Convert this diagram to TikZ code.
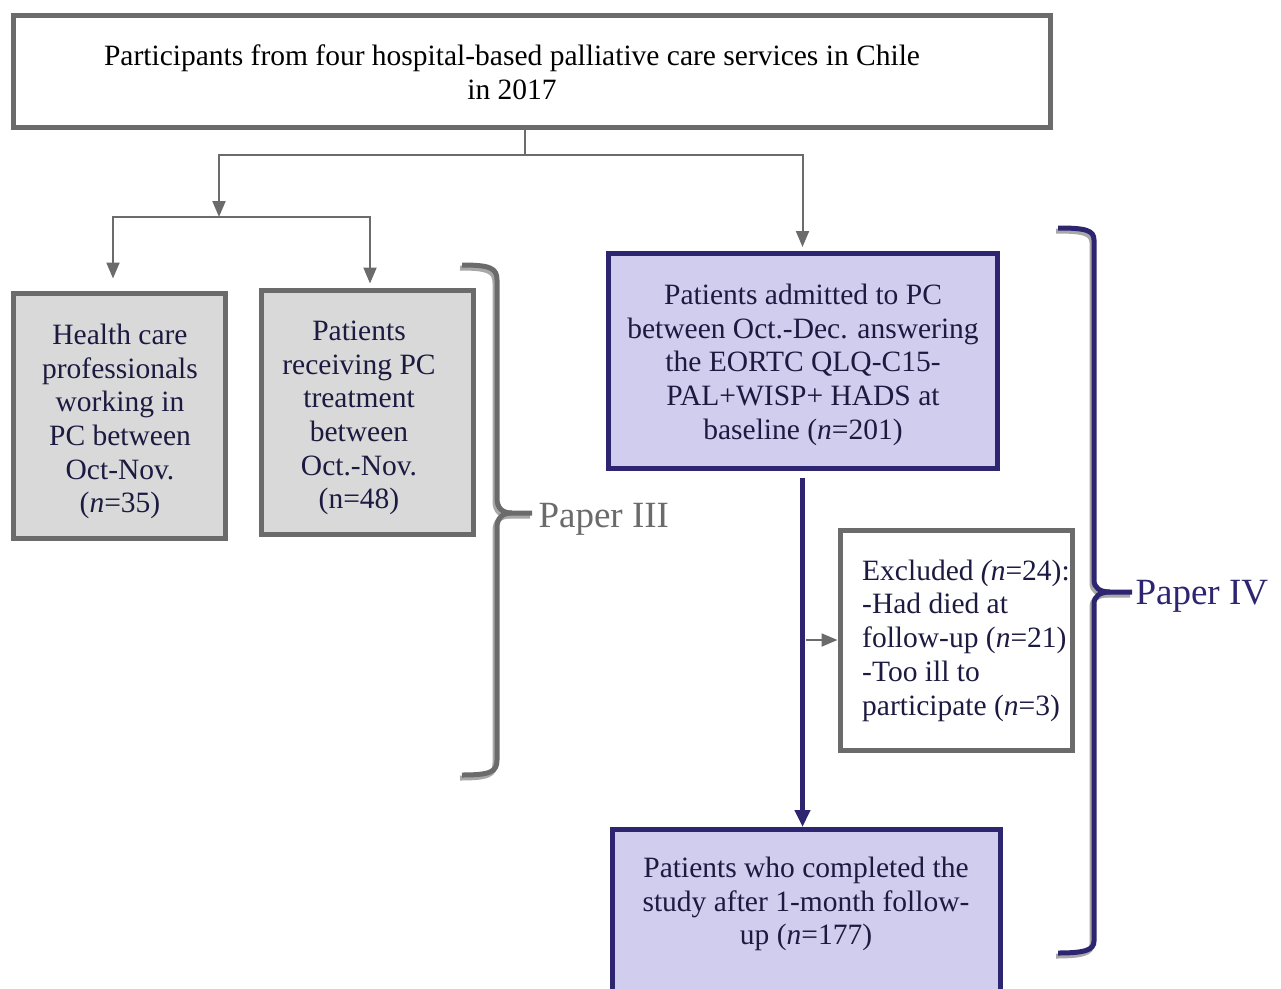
\documentclass[tikz,border=0pt]{standalone}
\usepackage{fontspec}
\setmainfont{Liberation Serif}
\usepackage{tikz}
\usetikzlibrary{arrows.meta,positioning}
\definecolor{ColorNavy}{HTML}{2E2570}
\definecolor{ColorLav}{HTML}{D0CDEE}
\definecolor{ColorGr}{HTML}{6B6B6B}
\definecolor{ColorLg}{HTML}{D9D9D9}
\definecolor{ColorSh}{HTML}{A8A8A8}
\definecolor{ColorTxt}{HTML}{1C1A40}
\tikzset{
  boxtext/.style={font=\fontsize{29.5}{33.7}\selectfont, align=center, text=ColorTxt},
  topbox/.style={draw=ColorGr, line width=5pt, fill=white},
  graybox/.style={draw=ColorGr, line width=5pt, fill=ColorLg},
  navybox/.style={draw=ColorNavy, line width=5pt, fill=ColorLav},
  exclbox/.style={draw=ColorGr, line width=5pt, fill=white},
  grayarrow/.style={draw=ColorGr, line width=2pt, -{Triangle[width=13pt,length=16pt]}},
  navyarrow/.style={draw=ColorNavy, line width=5pt, -{Triangle[width=15pt,length=17pt]}},
  papertext/.style={font=\fontsize{37}{40}\selectfont, anchor=west}
}

\begin{document}
\begin{tikzpicture}[x=1pt,y=-1pt]
        \useasboundingbox (0,0) rectangle (1281,988);
        \clip (0,0) rectangle (1281,988);
        %Top
        \node (top) [topbox, minimum width=1037, minimum height=112] at (531.5,71.5) {};
        \node (toptext) [boxtext, text=black] at (512,72) {Participants from four hospital-based palliative care services in Chile\\in 2017};
        %Boxes
        \node (hcp) [graybox, minimum width=212, minimum height=245] at (119.5,415.5) {};
        \node (hcptext) [boxtext] at (120,421.5) {Health care\\professionals\\working in\\PC between\\Oct-Nov.\\(\textit{n}=35)};
        \node (pat) [graybox, minimum width=212, minimum height=244] at (367,412) {};
        \node (pattext) [boxtext] at (359,418) {Patients\\receiving PC\\treatment\\between\\Oct.-Nov.\\(n=48)};
        \node (adm) [navybox, minimum width=389, minimum height=214.5] at (802.5,360.75) {};
        \node (admtext) [boxtext] at (803,364.75) {Patients admitted to PC\\between Oct.-Dec. answering\\the EORTC QLQ-C15-\\PAL+WISP+ HADS at\\baseline (\textit{n}=201)};
        \node (excl) [exclbox, minimum width=232, minimum height=220] at (956,640) {};
        \node (excltext) [boxtext, align=left, anchor=west, inner xsep=0pt] at (862,640.5) {Excluded \textit{(n}=24):\\-Had died at\\follow-up (\textit{n}=21)\\-Too ill to\\participate (\textit{n}=3)};
        \node (done) [navybox, anchor=north, minimum width=388, minimum height=205] at (806,827) {};
        \node (donetext) [boxtext] at (806,904) {Patients who completed the\\study after 1-month follow-\\up (\textit{n}=177)};
        %Arrows
        \coordinate (split) at (525,155);
        \coordinate (lsplit) at (219,217);
        \draw[ColorGr, line width=2pt] (top.south -| split) -- (split);
        \draw[grayarrow] (split) -| (lsplit);
        \draw[grayarrow, shorten >=4pt] (split) -| (adm.north);
        \draw[grayarrow, shorten >=12pt] (lsplit) -| ([xshift=-6.5pt]hcp.north);
        \draw[grayarrow, shorten >=4pt] (lsplit) -| ([xshift=3pt]pat.north);
        \draw[grayarrow, shorten <=3pt] (adm.south |- excl.west) -- (excl.west);
        \draw[navyarrow] ([yshift=-7pt]adm.south) -- (adm.south |- done.north);
        %Brackets
        \foreach \dx/\dy/\c in {-2/3/ColorSh, 0/0/ColorGr}{
          \draw[\c, line width=5pt, shift={(\dx,\dy)}]
            (462,265) .. controls (490,265) and (497,268) .. (497,280) -- (497,498)
            .. controls (497,508) and (502,513) .. (512,513) -- (532,513);
          \draw[\c, line width=5pt, shift={(\dx,\dy)}]
            (512,513) .. controls (502,513) and (497,518) .. (497,528) -- (497,760)
            .. controls (497,772) and (490,775) .. (462,775);
        }
        \foreach \dx/\dy/\c in {-2/3/ColorSh, 0/0/ColorNavy}{
          \draw[\c, line width=5pt, shift={(\dx,\dy)}]
            (1058,228) .. controls (1085,228) and (1094,230) .. (1094,240) -- (1094,580)
            .. controls (1094,588) and (1100,592) .. (1110,592) -- (1132,592);
          \draw[\c, line width=5pt, shift={(\dx,\dy)}]
            (1110,592) .. controls (1100,592) and (1094,596) .. (1094,604) -- (1094,941)
            .. controls (1094,950) and (1085,953) .. (1058,953);
        }
        \node (p3) [papertext, text=ColorGr] at (535,519) {Paper III};
        \node (p4) [papertext, text=ColorNavy] at (1132,596) {Paper IV};
\end{tikzpicture}
\end{document}
